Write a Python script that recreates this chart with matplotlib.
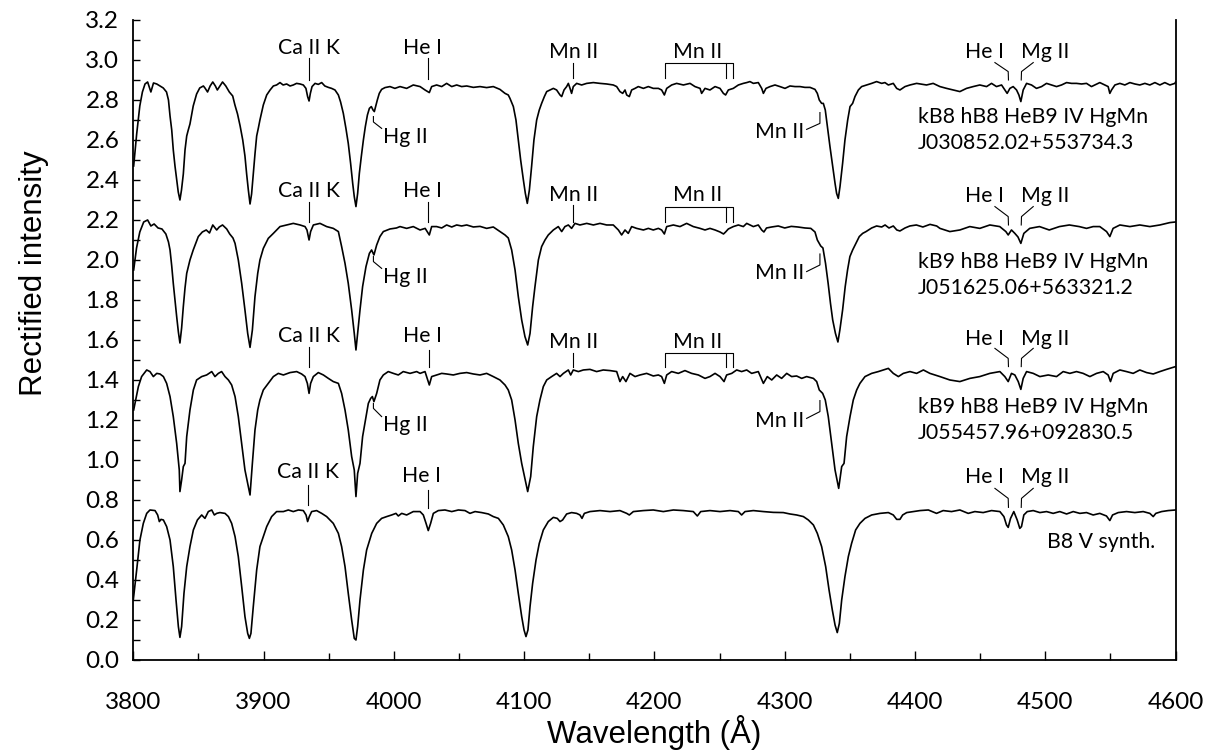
#!/usr/bin/env python3
"""Rectified spectra of three HgMn stars and a B8 V synthetic spectrum."""

import numpy as np
import matplotlib

matplotlib.use("Agg")
import matplotlib.pyplot as plt
from matplotlib.ticker import MultipleLocator, FormatStrFormatter

# (wavelength [A], rectified intensity incl. offset)
s1 = [
    (3800.3, 2.47), (3802.6, 2.63), (3805.0, 2.77), (3807.0, 2.84), (3809.0, 2.88),
    (3811.0, 2.89), (3813.5, 2.84), (3815.5, 2.885), (3818.0, 2.88), (3820.5, 2.87),
    (3823.0, 2.86), (3825.5, 2.84), (3827.0, 2.80), (3828.2, 2.72), (3829.5, 2.65),
    (3830.7, 2.55), (3832.0, 2.47), (3833.3, 2.40), (3834.5, 2.34), (3835.8, 2.30),
    (3837.0, 2.35), (3838.4, 2.43), (3839.7, 2.55), (3841.0, 2.62), (3842.2, 2.65),
    (3843.5, 2.68), (3846.0, 2.77), (3848.6, 2.83), (3851.0, 2.86), (3853.8, 2.87),
    (3855.0, 2.86), (3857.0, 2.84), (3859.0, 2.87), (3861.0, 2.89), (3863.0, 2.87),
    (3864.5, 2.85), (3866.5, 2.87), (3868.5, 2.89), (3871.0, 2.87), (3873.7, 2.84),
    (3876.3, 2.82), (3878.0, 2.775), (3880.0, 2.73), (3882.0, 2.67), (3884.0, 2.60),
    (3885.7, 2.52), (3887.0, 2.43), (3888.3, 2.35), (3889.6, 2.28), (3890.8, 2.33),
    (3892.1, 2.43), (3893.4, 2.53), (3894.7, 2.62), (3896.0, 2.66), (3897.2, 2.70),
    (3899.8, 2.775), (3902.4, 2.825), (3905.0, 2.85), (3907.5, 2.87), (3910.0, 2.875),
    (3912.6, 2.887), (3915.0, 2.875), (3917.7, 2.88), (3920.3, 2.87), (3922.8, 2.875),
    (3925.3, 2.883), (3928.0, 2.88), (3930.5, 2.875), (3932.5, 2.858), (3933.8, 2.817),
    (3934.9, 2.795), (3935.9, 2.833), (3937.2, 2.867), (3939.5, 2.883), (3942.0, 2.878),
    (3944.6, 2.887), (3947.0, 2.87), (3949.7, 2.863), (3952.2, 2.858), (3954.8, 2.85),
    (3957.4, 2.825), (3959.1, 2.79), (3961.2, 2.733), (3963.2, 2.658), (3965.0, 2.583),
    (3966.8, 2.483), (3968.4, 2.383), (3969.6, 2.317), (3970.9, 2.267), (3972.2, 2.333),
    (3973.5, 2.433), (3975.0, 2.517), (3976.6, 2.60), (3978.1, 2.667), (3979.7, 2.725),
    (3981.2, 2.758), (3982.7, 2.767), (3984.0, 2.75), (3985.0, 2.742), (3986.0, 2.767),
    (3987.3, 2.80), (3988.8, 2.833), (3990.6, 2.853), (3993.2, 2.862), (3997.0, 2.867),
    (4000.8, 2.858), (4004.7, 2.867), (4009.8, 2.858), (4014.9, 2.875), (4020.1, 2.867),
    (4023.9, 2.85), (4027.2, 2.837), (4029.0, 2.867), (4032.8, 2.875), (4036.7, 2.867),
    (4040.5, 2.883), (4044.4, 2.867), (4048.2, 2.875), (4052.0, 2.867), (4055.9, 2.87),
    (4061.0, 2.863), (4066.1, 2.867), (4071.2, 2.862), (4076.3, 2.867), (4081.4, 2.853),
    (4085.3, 2.833), (4087.8, 2.825), (4089.1, 2.808), (4091.7, 2.767), (4093.7, 2.70),
    (4095.5, 2.60), (4097.3, 2.50), (4099.4, 2.40), (4100.9, 2.333), (4102.4, 2.283),
    (4104.0, 2.35), (4105.7, 2.467), (4107.5, 2.60), (4109.6, 2.70), (4111.6, 2.75),
    (4113.4, 2.783), (4115.5, 2.817), (4117.3, 2.842), (4119.8, 2.85), (4122.4, 2.858),
    (4124.9, 2.85), (4127.5, 2.825), (4128.8, 2.817), (4130.6, 2.85), (4132.6, 2.867),
    (4133.9, 2.883), (4135.2, 2.858), (4136.4, 2.833), (4137.7, 2.867), (4140.3, 2.883),
    (4144.1, 2.875), (4148.0, 2.883), (4153.1, 2.887), (4158.2, 2.883), (4163.3, 2.88),
    (4168.4, 2.875), (4171.0, 2.867), (4173.5, 2.842), (4175.6, 2.833), (4177.4, 2.85),
    (4178.7, 2.825), (4180.7, 2.817), (4182.5, 2.85), (4185.1, 2.858), (4187.6, 2.867),
    (4191.5, 2.858), (4195.3, 2.867), (4199.1, 2.858), (4203.0, 2.858), (4205.5, 2.85),
    (4207.6, 2.825), (4209.4, 2.858), (4213.2, 2.875), (4217.0, 2.883), (4222.2, 2.875),
    (4227.3, 2.883), (4231.1, 2.867), (4235.0, 2.858), (4236.2, 2.833), (4238.8, 2.858),
    (4242.6, 2.85), (4246.5, 2.867), (4250.3, 2.858), (4252.9, 2.833), (4254.6, 2.825),
    (4256.7, 2.85), (4260.5, 2.858), (4264.4, 2.875), (4268.2, 2.883), (4270.8, 2.887),
    (4273.3, 2.892), (4275.9, 2.883), (4279.7, 2.887), (4282.3, 2.858), (4283.6, 2.833),
    (4285.6, 2.858), (4288.7, 2.867), (4292.5, 2.875), (4296.3, 2.867), (4300.2, 2.858),
    (4304.0, 2.87), (4307.9, 2.867), (4311.7, 2.867), (4315.5, 2.863), (4319.4, 2.863),
    (4323.2, 2.853), (4325.0, 2.833), (4326.5, 2.80), (4328.3, 2.783), (4329.6, 2.783),
    (4331.1, 2.75), (4332.7, 2.667), (4334.7, 2.567), (4336.8, 2.467), (4338.6, 2.383),
    (4339.8, 2.333), (4341.1, 2.308), (4342.4, 2.367), (4344.4, 2.483), (4346.2, 2.60),
    (4348.3, 2.70), (4350.1, 2.767), (4352.1, 2.783), (4353.9, 2.817), (4356.5, 2.85),
    (4359.0, 2.867), (4362.9, 2.875), (4366.7, 2.883), (4370.5, 2.892), (4374.4, 2.883),
    (4376.9, 2.887), (4379.5, 2.875), (4383.3, 2.883), (4385.9, 2.858), (4388.4, 2.85),
    (4392.3, 2.867), (4396.1, 2.875), (4401.2, 2.883), (4408.8, 2.875), (4413.9, 2.883),
    (4419.1, 2.867), (4424.2, 2.858), (4429.3, 2.85), (4434.4, 2.842), (4439.5, 2.858),
    (4444.6, 2.867), (4449.7, 2.875), (4454.9, 2.867), (4458.7, 2.883), (4462.5, 2.867),
    (4466.4, 2.875), (4468.9, 2.85), (4470.7, 2.833), (4472.8, 2.858), (4475.3, 2.867),
    (4477.9, 2.85), (4479.7, 2.825), (4481.2, 2.792), (4483.0, 2.85), (4485.6, 2.883),
    (4489.4, 2.875), (4493.2, 2.858), (4497.1, 2.867), (4500.9, 2.883), (4504.8, 2.875),
    (4508.6, 2.867), (4512.4, 2.875), (4516.3, 2.887), (4520.1, 2.883), (4523.9, 2.883),
    (4527.8, 2.88), (4531.6, 2.883), (4535.4, 2.867), (4538.0, 2.875), (4541.8, 2.887),
    (4545.7, 2.875), (4548.2, 2.867), (4549.5, 2.833), (4550.8, 2.85), (4553.4, 2.875),
    (4557.2, 2.883), (4561.0, 2.875), (4564.9, 2.887), (4568.7, 2.88), (4572.5, 2.875),
    (4576.4, 2.883), (4580.2, 2.875), (4584.1, 2.887), (4587.9, 2.875), (4591.7, 2.887),
    (4595.6, 2.875), (4599.4, 2.883), (4600.0, 2.89),
]

s2 = [
    (3800.3, 1.95), (3802.5, 2.06), (3805.0, 2.14), (3808.0, 2.19), (3811.0, 2.20),
    (3813.5, 2.17), (3816.0, 2.18), (3819.0, 2.16), (3822.0, 2.155), (3825.0, 2.13),
    (3827.0, 2.09), (3828.2, 2.05), (3829.5, 1.97), (3830.7, 1.883), (3832.0, 1.80),
    (3833.3, 1.717), (3834.6, 1.64), (3835.8, 1.585), (3837.1, 1.66), (3838.4, 1.767),
    (3839.7, 1.86), (3841.0, 1.933), (3843.5, 2.0), (3846.0, 2.05), (3849.9, 2.117),
    (3853.0, 2.14), (3856.0, 2.15), (3858.5, 2.135), (3861.0, 2.175), (3864.0, 2.15),
    (3866.0, 2.165), (3868.5, 2.175), (3871.7, 2.155), (3874.0, 2.13), (3876.5, 2.11),
    (3878.1, 2.083), (3880.6, 2.0), (3883.2, 1.883), (3885.7, 1.75), (3887.8, 1.633),
    (3889.6, 1.563), (3891.4, 1.65), (3893.4, 1.817), (3895.5, 1.933), (3897.2, 2.0),
    (3899.8, 2.058), (3903.6, 2.108), (3907.5, 2.133), (3912.6, 2.167), (3917.7, 2.175),
    (3922.8, 2.183), (3928.0, 2.175), (3931.8, 2.167), (3933.3, 2.15), (3934.9, 2.10),
    (3936.1, 2.142), (3938.2, 2.175), (3943.3, 2.183), (3948.4, 2.167), (3953.5, 2.158),
    (3957.4, 2.142), (3959.9, 2.067), (3962.5, 1.983), (3965.0, 1.883), (3967.6, 1.75),
    (3969.6, 1.633), (3970.9, 1.55), (3972.2, 1.633), (3974.0, 1.75), (3976.0, 1.867),
    (3978.6, 1.967), (3981.2, 2.033), (3982.9, 2.05), (3984.7, 2.025), (3986.8, 2.075),
    (3989.3, 2.117), (3991.9, 2.142), (3997.0, 2.155), (4002.0, 2.16), (4004.7, 2.167),
    (4009.8, 2.158), (4014.9, 2.167), (4020.1, 2.15), (4024.0, 2.158), (4027.2, 2.125),
    (4029.0, 2.167), (4032.8, 2.167), (4036.7, 2.16), (4040.5, 2.175), (4044.4, 2.165),
    (4048.2, 2.175), (4052.0, 2.17), (4055.9, 2.175), (4061.0, 2.165), (4066.1, 2.168),
    (4071.2, 2.158), (4076.3, 2.165), (4081.4, 2.142), (4085.3, 2.125), (4087.8, 2.11),
    (4090.4, 2.05), (4093.0, 1.95), (4095.5, 1.817), (4098.1, 1.70), (4100.6, 1.617),
    (4102.7, 1.575), (4104.5, 1.633), (4106.5, 1.767), (4108.3, 1.867), (4110.9, 2.0),
    (4113.4, 2.067), (4116.0, 2.10), (4118.5, 2.125), (4121.1, 2.142), (4122.4, 2.15),
    (4126.2, 2.167), (4128.8, 2.142), (4131.3, 2.167), (4133.9, 2.175), (4136.4, 2.158),
    (4139.0, 2.183), (4142.8, 2.175), (4148.0, 2.183), (4153.1, 2.175), (4158.2, 2.183),
    (4163.3, 2.175), (4168.4, 2.175), (4172.3, 2.15), (4174.8, 2.125), (4177.4, 2.15),
    (4179.9, 2.133), (4182.5, 2.167), (4186.3, 2.158), (4191.5, 2.15), (4195.3, 2.158),
    (4199.1, 2.15), (4203.0, 2.158), (4205.5, 2.15), (4207.6, 2.13), (4209.4, 2.167),
    (4214.5, 2.175), (4219.6, 2.167), (4224.7, 2.183), (4229.8, 2.167), (4235.0, 2.158),
    (4238.8, 2.15), (4242.6, 2.158), (4246.5, 2.15), (4250.3, 2.14), (4253.0, 2.13),
    (4254.6, 2.14), (4256.7, 2.155), (4260.5, 2.167), (4264.4, 2.175), (4268.2, 2.167),
    (4270.8, 2.183), (4275.9, 2.167), (4279.7, 2.175), (4282.3, 2.15), (4284.0, 2.14),
    (4286.0, 2.16), (4290.0, 2.165), (4295.0, 2.17), (4300.0, 2.16), (4305.0, 2.168),
    (4310.0, 2.165), (4315.5, 2.16), (4320.0, 2.158), (4323.2, 2.14), (4325.0, 2.10),
    (4327.6, 2.07), (4329.3, 2.06), (4331.3, 1.983), (4333.3, 1.883), (4335.1, 1.783),
    (4336.8, 1.70), (4338.9, 1.633), (4340.8, 1.59), (4342.3, 1.65), (4344.4, 1.75),
    (4346.4, 1.867), (4348.2, 1.95), (4350.0, 2.017), (4352.1, 2.05), (4354.6, 2.083),
    (4357.2, 2.117), (4359.8, 2.133), (4362.4, 2.142), (4366.7, 2.16), (4370.5, 2.17),
    (4374.4, 2.165), (4377.0, 2.175), (4380.0, 2.16), (4383.3, 2.17), (4386.0, 2.15),
    (4388.4, 2.145), (4392.3, 2.16), (4396.0, 2.17), (4401.0, 2.175), (4406.0, 2.165),
    (4411.5, 2.178), (4416.6, 2.17), (4419.1, 2.158), (4426.7, 2.142), (4434.4, 2.15),
    (4442.0, 2.167), (4449.7, 2.158), (4457.4, 2.175), (4465.0, 2.167), (4469.7, 2.142),
    (4471.5, 2.125), (4474.0, 2.15), (4476.6, 2.133), (4479.0, 2.115), (4481.2, 2.083),
    (4483.5, 2.133), (4488.0, 2.158), (4495.5, 2.167), (4503.0, 2.15), (4510.8, 2.167),
    (4518.4, 2.175), (4526.0, 2.167), (4531.6, 2.158), (4536.7, 2.167), (4541.8, 2.167),
    (4547.0, 2.142), (4549.5, 2.117), (4552.0, 2.158), (4557.2, 2.175), (4564.9, 2.167),
    (4572.5, 2.175), (4580.2, 2.167), (4587.9, 2.175), (4595.6, 2.187), (4600.0, 2.19),
]

s3 = [
    (3800.3, 1.25), (3803.9, 1.367), (3806.4, 1.417), (3810.3, 1.45), (3812.8, 1.442),
    (3815.4, 1.417), (3818.0, 1.433), (3820.5, 1.43), (3823.1, 1.417), (3825.6, 1.383),
    (3828.2, 1.317), (3830.7, 1.217), (3833.3, 1.083), (3835.3, 0.95), (3835.8, 0.842),
    (3837.1, 0.90), (3838.4, 0.967), (3839.7, 0.983), (3841.0, 1.117), (3843.5, 1.25),
    (3846.1, 1.35), (3848.6, 1.40), (3852.5, 1.417), (3856.3, 1.425), (3860.2, 1.442),
    (3862.7, 1.417), (3865.3, 1.433), (3867.8, 1.442), (3870.4, 1.417), (3873.0, 1.40),
    (3875.5, 1.375), (3878.1, 1.317), (3880.6, 1.217), (3883.2, 1.083), (3885.7, 0.95),
    (3889.6, 0.825), (3891.4, 0.983), (3893.4, 1.15), (3895.5, 1.25), (3897.2, 1.30),
    (3899.8, 1.35), (3903.6, 1.383), (3907.5, 1.417), (3911.3, 1.433), (3915.2, 1.425),
    (3920.3, 1.437), (3925.4, 1.442), (3929.2, 1.43), (3931.8, 1.417), (3933.6, 1.383),
    (3934.9, 1.333), (3936.1, 1.383), (3938.2, 1.417), (3942.0, 1.437), (3945.9, 1.425),
    (3949.7, 1.408), (3953.5, 1.392), (3957.4, 1.383), (3959.9, 1.333), (3962.5, 1.25),
    (3965.0, 1.15), (3967.6, 1.017), (3969.6, 0.95), (3970.9, 0.817), (3972.2, 0.933),
    (3974.0, 0.983), (3976.0, 1.117), (3978.6, 1.217), (3980.4, 1.283), (3982.2, 1.308),
    (3983.5, 1.317), (3984.7, 1.292), (3986.8, 1.333), (3989.3, 1.40), (3991.9, 1.425),
    (3995.7, 1.442), (3999.6, 1.433), (4003.4, 1.425), (4007.2, 1.442), (4012.4, 1.433),
    (4017.5, 1.442), (4020.1, 1.433), (4023.9, 1.442), (4027.2, 1.375), (4029.0, 1.417),
    (4032.8, 1.425), (4036.7, 1.433), (4040.5, 1.43), (4045.6, 1.425), (4050.7, 1.433),
    (4055.9, 1.437), (4061.0, 1.43), (4066.1, 1.425), (4071.2, 1.433), (4076.3, 1.417),
    (4081.4, 1.40), (4085.3, 1.375), (4087.8, 1.35), (4090.4, 1.30), (4093.0, 1.20),
    (4095.5, 1.083), (4098.1, 0.983), (4102.7, 0.842), (4105.0, 0.917), (4107.0, 1.067),
    (4109.6, 1.217), (4112.1, 1.30), (4114.7, 1.367), (4117.3, 1.40), (4121.1, 1.417),
    (4124.9, 1.433), (4127.5, 1.417), (4130.1, 1.433), (4133.9, 1.45), (4135.7, 1.425),
    (4137.7, 1.45), (4141.6, 1.442), (4145.4, 1.45), (4150.5, 1.453), (4155.6, 1.442),
    (4160.7, 1.45), (4165.9, 1.447), (4171.0, 1.442), (4173.5, 1.392), (4175.6, 1.417),
    (4178.1, 1.392), (4181.2, 1.433), (4185.1, 1.417), (4188.9, 1.425), (4194.0, 1.433),
    (4199.1, 1.42), (4203.0, 1.425), (4205.5, 1.417), (4207.6, 1.383), (4209.4, 1.425),
    (4213.2, 1.442), (4218.3, 1.433), (4223.4, 1.447), (4228.5, 1.433), (4233.7, 1.425),
    (4238.8, 1.408), (4242.6, 1.417), (4246.5, 1.433), (4250.3, 1.417), (4253.4, 1.392),
    (4255.4, 1.425), (4259.3, 1.433), (4263.1, 1.45), (4266.9, 1.442), (4270.8, 1.45),
    (4274.6, 1.433), (4279.7, 1.442), (4283.6, 1.383), (4286.6, 1.417), (4290.0, 1.40),
    (4293.8, 1.425), (4297.6, 1.408), (4301.5, 1.433), (4305.3, 1.417), (4309.1, 1.42),
    (4313.0, 1.408), (4316.8, 1.417), (4322.0, 1.408), (4324.5, 1.392), (4326.5, 1.35),
    (4329.1, 1.333), (4331.1, 1.30), (4333.4, 1.217), (4336.0, 1.083), (4338.6, 0.95),
    (4341.4, 0.858), (4343.7, 0.967), (4345.5, 0.983), (4347.5, 1.117), (4350.1, 1.217),
    (4352.6, 1.30), (4355.2, 1.35), (4357.7, 1.383), (4361.6, 1.417), (4366.7, 1.433),
    (4371.8, 1.442), (4375.7, 1.45), (4379.5, 1.458), (4383.3, 1.433), (4387.2, 1.417),
    (4391.0, 1.433), (4396.1, 1.442), (4401.2, 1.433), (4406.4, 1.45), (4411.4, 1.433),
    (4419.1, 1.417), (4426.7, 1.40), (4434.4, 1.392), (4442.1, 1.408), (4449.7, 1.417),
    (4457.4, 1.433), (4465.1, 1.442), (4468.9, 1.417), (4471.5, 1.392), (4474.0, 1.433),
    (4476.6, 1.425), (4479.2, 1.392), (4481.2, 1.353), (4483.0, 1.408), (4485.6, 1.442),
    (4490.7, 1.433), (4495.8, 1.417), (4502.2, 1.425), (4508.6, 1.417), (4513.7, 1.442),
    (4518.8, 1.433), (4523.9, 1.442), (4529.0, 1.433), (4534.2, 1.417), (4539.3, 1.433),
    (4544.4, 1.442), (4548.2, 1.425), (4550.0, 1.392), (4552.1, 1.433), (4557.2, 1.45),
    (4562.3, 1.442), (4567.4, 1.433), (4572.5, 1.45), (4577.7, 1.437), (4582.8, 1.43),
    (4587.9, 1.442), (4593.0, 1.453), (4600.0, 1.467),
]

s4 = [
    (3800.0, 0.30), (3802.6, 0.45), (3805.1, 0.60), (3807.7, 0.683), (3810.3, 0.733),
    (3812.8, 0.75), (3816.7, 0.747), (3818.7, 0.725), (3820.0, 0.692), (3821.3, 0.703),
    (3823.1, 0.70), (3825.6, 0.667), (3828.2, 0.60), (3830.7, 0.467), (3832.8, 0.30),
    (3834.6, 0.167), (3835.8, 0.113), (3837.1, 0.167), (3838.9, 0.333), (3841.0, 0.467),
    (3843.5, 0.567), (3846.1, 0.65), (3849.2, 0.70), (3852.5, 0.725), (3855.0, 0.708),
    (3857.6, 0.742), (3860.2, 0.75), (3862.2, 0.725), (3864.0, 0.733), (3866.5, 0.737),
    (3870.4, 0.733), (3873.0, 0.717), (3875.5, 0.683), (3878.1, 0.617), (3880.6, 0.517),
    (3883.2, 0.367), (3885.7, 0.217), (3887.8, 0.133), (3889.1, 0.108), (3890.3, 0.133),
    (3892.1, 0.267), (3894.7, 0.45), (3897.2, 0.567), (3899.8, 0.617), (3902.4, 0.667),
    (3906.2, 0.717), (3910.0, 0.742), (3915.2, 0.742), (3919.0, 0.75), (3922.8, 0.742),
    (3926.7, 0.75), (3930.5, 0.747), (3932.6, 0.725), (3933.8, 0.692), (3935.1, 0.717),
    (3936.9, 0.742), (3940.7, 0.747), (3944.6, 0.733), (3948.4, 0.717), (3953.5, 0.683),
    (3957.4, 0.633), (3959.9, 0.567), (3962.5, 0.467), (3965.0, 0.333), (3967.6, 0.20),
    (3969.6, 0.108), (3970.9, 0.10), (3972.2, 0.167), (3974.0, 0.30), (3976.6, 0.45),
    (3979.1, 0.55), (3983.0, 0.633), (3986.8, 0.683), (3990.6, 0.708), (3994.5, 0.717),
    (3998.3, 0.725), (4001.6, 0.733), (4003.4, 0.72), (4006.0, 0.733), (4009.8, 0.725),
    (4014.9, 0.742), (4020.1, 0.742), (4022.6, 0.725), (4024.7, 0.683), (4026.4, 0.647),
    (4028.2, 0.683), (4030.3, 0.733), (4034.1, 0.747), (4039.2, 0.75), (4044.4, 0.742),
    (4049.5, 0.75), (4054.6, 0.747), (4058.4, 0.733), (4062.3, 0.742), (4067.4, 0.737),
    (4072.5, 0.73), (4076.3, 0.717), (4080.2, 0.708), (4084.0, 0.675), (4087.8, 0.617),
    (4090.4, 0.55), (4093.0, 0.45), (4095.5, 0.333), (4098.1, 0.217), (4099.9, 0.15),
    (4101.4, 0.117), (4102.9, 0.15), (4104.5, 0.267), (4106.5, 0.383), (4109.1, 0.50),
    (4111.6, 0.583), (4114.7, 0.65), (4118.5, 0.692), (4122.4, 0.713), (4125.4, 0.708),
    (4127.5, 0.692), (4129.5, 0.70), (4132.6, 0.73), (4136.4, 0.737), (4140.3, 0.733),
    (4142.8, 0.725), (4144.4, 0.708), (4146.2, 0.733), (4150.5, 0.742), (4158.2, 0.747),
    (4165.9, 0.742), (4173.5, 0.747), (4178.7, 0.733), (4180.7, 0.725), (4183.8, 0.742),
    (4191.5, 0.747), (4199.1, 0.75), (4206.8, 0.742), (4214.5, 0.75), (4222.1, 0.747),
    (4229.8, 0.742), (4232.9, 0.72), (4235.5, 0.742), (4242.6, 0.747), (4250.3, 0.742),
    (4258.0, 0.747), (4264.4, 0.742), (4266.9, 0.725), (4269.5, 0.742), (4275.9, 0.747),
    (4283.6, 0.742), (4291.2, 0.738), (4298.9, 0.737), (4304.0, 0.73), (4309.1, 0.725),
    (4314.3, 0.717), (4318.1, 0.70), (4322.0, 0.675), (4325.0, 0.633), (4328.3, 0.567),
    (4331.4, 0.467), (4334.0, 0.35), (4336.5, 0.25), (4338.6, 0.175), (4340.3, 0.137),
    (4341.9, 0.183), (4343.7, 0.30), (4346.2, 0.417), (4348.8, 0.517), (4351.3, 0.583),
    (4354.4, 0.65), (4357.7, 0.683), (4361.6, 0.708), (4366.7, 0.725), (4373.1, 0.733),
    (4379.5, 0.737), (4383.3, 0.725), (4385.9, 0.703), (4388.4, 0.703), (4390.5, 0.725),
    (4393.6, 0.737), (4398.7, 0.742), (4403.8, 0.747), (4410.2, 0.75), (4416.5, 0.733),
    (4421.6, 0.747), (4428.0, 0.742), (4434.4, 0.75), (4440.8, 0.733), (4445.9, 0.742),
    (4452.3, 0.737), (4458.7, 0.747), (4465.1, 0.742), (4468.2, 0.717), (4470.2, 0.675),
    (4471.5, 0.663), (4473.3, 0.708), (4475.8, 0.742), (4478.4, 0.70), (4480.4, 0.658),
    (4481.7, 0.667), (4483.5, 0.725), (4486.1, 0.742), (4490.7, 0.747), (4495.8, 0.737),
    (4500.9, 0.742), (4506.0, 0.733), (4511.1, 0.742), (4516.3, 0.73), (4521.4, 0.742),
    (4526.5, 0.733), (4531.6, 0.737), (4536.7, 0.725), (4541.8, 0.733), (4546.9, 0.72),
    (4549.5, 0.697), (4551.6, 0.725), (4555.9, 0.737), (4562.3, 0.742), (4568.7, 0.737),
    (4575.1, 0.742), (4580.2, 0.733), (4582.8, 0.717), (4584.8, 0.733), (4589.2, 0.742),
    (4594.3, 0.747), (4600.0, 0.75),
]

spectra = [s1, s2, s3, s4]

# line identifications
# vertical marks: text, x of mark, mark bottom, mark top, text x, text y
vmarks = [
    ("Ca II K", 3934.8, 2.900, 3.008, 3935.0, 3.062),
    ("He I", 4026.4, 2.903, 3.008, 4022.0, 3.062),
    ("Mn II", 4137.2, 2.908, 2.987, 4138.2, 3.040),
    ("Ca II K", 3934.8, 2.192, 2.292, 3935.0, 2.347),
    ("He I", 4026.4, 2.192, 2.292, 4022.0, 2.347),
    ("Mn II", 4137.5, 2.192, 2.275, 4138.2, 2.325),
    ("Ca II K", 3934.8, 1.467, 1.567, 3935.0, 1.622),
    ("He I", 4026.6, 1.467, 1.550, 4022.0, 1.620),
    ("Mn II", 4137.5, 1.467, 1.533, 4138.2, 1.592),
    ("Ca II K", 3934.3, 0.775, 0.875, 3934.3, 0.940),
    ("He I", 4026.4, 0.760, 0.850, 4021.3, 0.920),
]
# Mn II bracket: bracket top, bracket bottom, text y
brackets = [(2.987, 2.908, 3.040), (2.267, 2.192, 2.325), (1.537, 1.467, 1.592)]
bracket_x = [4208.0, 4254.6, 4260.5]
# Hg II 3984: mark top, bend, leader end, text y
hg_marks = [(2.717, 2.690, 2.658, 2.617), (2.017, 1.992, 1.958, 1.917),
            (1.283, 1.258, 1.217, 1.175)]
# Mn II 4326: text y, leader start, bend, mark top
mn_marks = [(2.642, 2.653, 2.683, 2.737), (1.937, 1.942, 1.975, 2.030),
            (1.197, 1.208, 1.242, 1.297)]
# He I 4471 / Mg II 4481 pair: leader top, bend, bottom, text y
hemg_marks = [(2.987, 2.942, 2.900, 3.038), (2.267, 2.217, 2.175, 2.322),
              (1.558, 1.508, 1.467, 1.605), (0.858, 0.808, 0.763, 0.913)]
star_labels = [
    ("kB8 hB8 HeB9 IV HgMn", 2.717), ("J030852.02+553734.3", 2.583),
    ("kB9 hB8 HeB9 IV HgMn", 1.988), ("J051625.06+563321.2", 1.858),
    ("kB9 hB8 HeB9 IV HgMn", 1.267), ("J055457.96+092830.5", 1.133),
    ("B8 V synth.", 0.592),
]

FONT = "Lato"
lab = dict(fontsize=15.3, family=FONT, color="black")
mark = dict(color="black", lw=0.8)

fig = plt.figure(figsize=(12.15, 7.54), dpi=100)
ax = fig.add_axes([0.1097, 0.1247, 0.8579, 0.8488])

for s in spectra:
    w, f = np.array(s).T
    ax.plot(w, f, color="black", lw=1.2, solid_joinstyle="round")

for text, xm, y0, y1, xt, yt in vmarks:
    ax.plot([xm, xm], [y0, y1], **mark)
    ax.text(xt, yt, text, ha="center", va="center", **lab)

for top, bot, yt in brackets:
    ax.plot([bracket_x[0], bracket_x[0], bracket_x[2], bracket_x[2]],
            [bot, top, top, bot], **mark)
    ax.plot([bracket_x[1], bracket_x[1]], [top, bot], **mark)
    ax.text(4233.4, yt, "Mn II", ha="center", va="center", **lab)

for top, bend, end, yt in hg_marks:
    ax.plot([3984.3, 3984.3, 3990.6], [top, bend, end], **mark)
    ax.text(3992.0, yt, "Hg II", ha="left", va="center", **lab)

for yt, a, b, c in mn_marks:
    ax.plot([4316.8, 4327.0, 4327.0], [a, b, c], **mark)
    ax.text(4314.6, yt, "Mn II", ha="right", va="center", **lab)

for top, bend, bot, yt in hemg_marks:
    ax.plot([4461.3, 4471.5, 4471.7], [top, bend, bot], **mark)
    ax.plot([4490.7, 4481.7, 4481.5], [top, bend, bot], **mark)
    ax.text(4453.6, yt, "He I", ha="center", va="center", **lab)
    ax.text(4499.6, yt, "Mg II", ha="center", va="center", **lab)

for text, yt in star_labels:
    xt = 4501.0 if text.startswith("B8") else 4402.0
    ax.text(xt, yt, text, ha="left", va="center", **lab)

ax.set_xlim(3800, 4600)
ax.set_ylim(0, 3.2)
ax.xaxis.set_major_locator(MultipleLocator(100))
ax.xaxis.set_minor_locator(MultipleLocator(50))
ax.yaxis.set_major_locator(MultipleLocator(0.2))
ax.yaxis.set_minor_locator(MultipleLocator(0.1))
ax.yaxis.set_major_formatter(FormatStrFormatter("%.1f"))
ax.tick_params(which="both", direction="in", width=1.0, color="black",
               top=False, right=False)
ax.tick_params(axis="x", which="major", length=6.5, pad=23, labelsize=17.5)
ax.tick_params(axis="x", which="minor", length=5)
ax.tick_params(axis="y", which="both", length=5)
ax.tick_params(axis="y", which="major", pad=10, labelsize=17.5)
for lbl in ax.get_xticklabels() + ax.get_yticklabels():
    lbl.set_family(FONT)

ax.spines["top"].set_visible(False)
for side in ("left", "bottom", "right"):
    ax.spines[side].set_linewidth(1.3)

ax.set_xlabel("Wavelength (Å)", fontsize=22.5, family="Liberation Sans")
ax.set_ylabel("Rectified intensity", fontsize=22.5, family="Liberation Sans")
ax.xaxis.set_label_coords(0.5, -0.086)
ax.yaxis.set_label_coords(-0.081, 0.605)

fig.savefig("out.png", dpi=100)
